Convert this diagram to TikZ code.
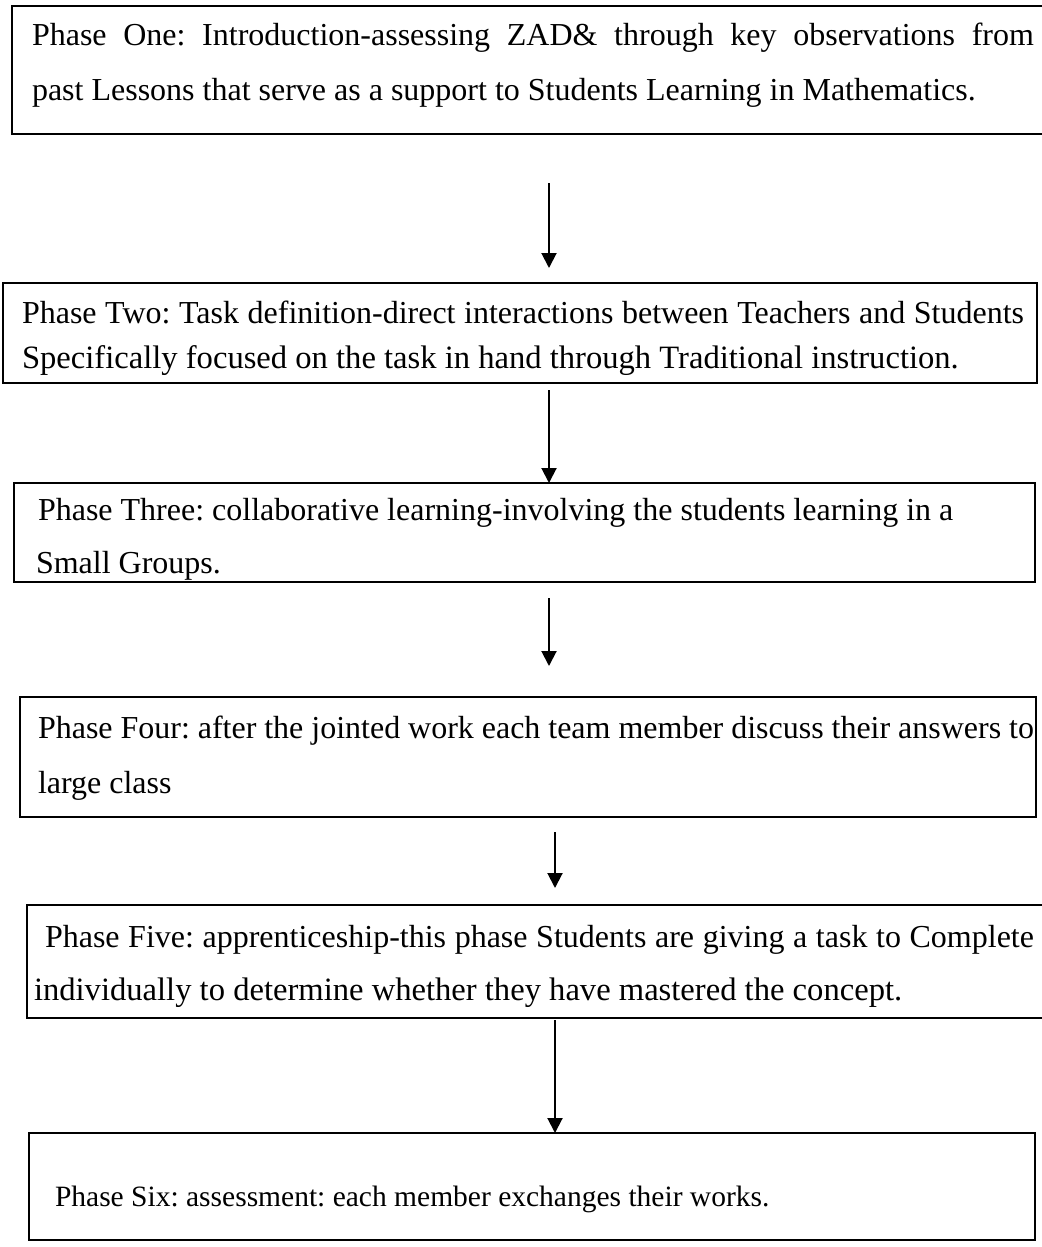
\documentclass[tikz,border=0pt]{standalone}
\usepackage{fontspec}
\setmainfont{Liberation Serif}
\usetikzlibrary{arrows.meta,calc}
\begin{document}
\frenchspacing
\begin{tikzpicture}[x=1pt,y=-1pt,
  box/.style={draw=black,line width=2pt,rectangle,inner sep=0pt,outer sep=0pt,anchor=north west},
  txt/.style={inner sep=0pt,outer sep=0pt,anchor=base west,font=\fontsize{32}{38}\selectfont\frenchspacing},
  txtb/.style={txt,font=\fontsize{32.6}{38}\selectfont\frenchspacing},
  txts/.style={txt,font=\fontsize{29.5}{36}\selectfont\frenchspacing},
  arr/.style={line width=2pt,-{Triangle[width=15pt,length=15pt]}}]
\useasboundingbox[fill=white] (0,0) rectangle (1041,1247);
% boxes
\node[box,minimum width=1040pt,minimum height=128pt] (b1) at (12,6) {};
\node[box,minimum width=1034pt,minimum height=100pt] (b2) at (3,283) {};
\node[box,minimum width=1021pt,minimum height=99pt] (b3) at (14,483) {};
\node[box,minimum width=1016pt,minimum height=120pt] (b4) at (20,697) {};
\node[box,minimum width=1025pt,minimum height=113pt] (b5) at (27,905) {};
\node[box,minimum width=1006pt,minimum height=107pt] (b6) at (29,1133) {};
% texts
\node[txt] (t1a) at (32,46) {\makebox[1002pt][s]{Phase One: Introduction-assessing ZAD\& through key observations from}};
\node[txt] (t1b) at (32,100) {past Lessons that serve as a support to Students Learning in Mathematics.};
\node[txt] (t2a) at (22,323) {\makebox[1002pt][s]{Phase Two: Task definition-direct interactions between Teachers and Students}};
\node[txtb] (t2b) at (22,368) {Specifically focused on the task in hand through Traditional instruction.};
\node[txt] (t3a) at (38,520) {Phase Three: collaborative learning-involving the students learning in a};
\node[txt] (t3b) at (36,573) {Small Groups.};
\node[txt] (t4a) at (38,738) {\makebox[996pt][s]{Phase Four: after the jointed work each team member discuss their answers to}};
\node[txt] (t4b) at (38,793) {large class};
\node[txt] (t5a) at (45,947) {\makebox[989pt][s]{Phase Five: apprenticeship-this phase Students are giving a task to Complete}};
\node[txtb] (t5b) at (34,1000) {individually to determine whether they have mastered the concept.};
\node[txts] (t6) at (55,1206) {Phase Six: assessment: each member exchanges their works.};
% arrows
\coordinate (a1s) at (549,183);
\coordinate (a1e) at (549,268);
\coordinate (a2s) at (549,390);
\coordinate (a3s) at (549,598);
\coordinate (a3e) at (549,666);
\coordinate (a4s) at (555,832);
\coordinate (a4e) at (555,888);
\coordinate (a5s) at (555,1020);
\draw[arr] (a1s) -- (a1e);
\draw[arr] (a2s) -- (a2s |- b3.north);
\draw[arr] (a3s) -- (a3e);
\draw[arr] (a4s) -- (a4e);
\draw[arr] (a5s) -- (a5s |- b6.north);
\end{tikzpicture}
\end{document}
